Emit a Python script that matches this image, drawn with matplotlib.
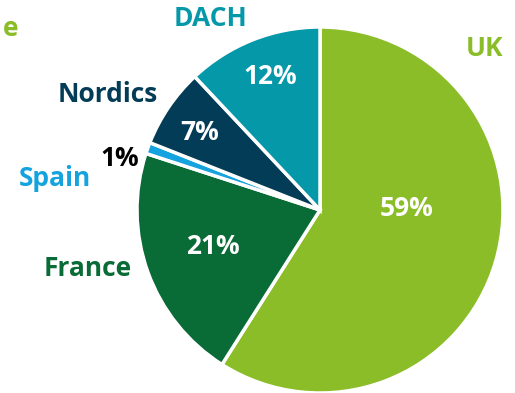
import matplotlib.pyplot as plt

plt.rcParams['font.family'] = ['Open Sans', 'DejaVu Sans']

regions = ['UK', 'France', 'Spain', 'Nordics', 'DACH']
shares = [59, 21, 1, 7, 12]
colors = ['#8abd28', '#096b36', '#14a3df', '#033c57', '#0598a9']
pct_colors = ['white', 'white', 'black', 'white', 'white']

# label anchors in pixel space (x, y from top)
name_pos = [(485, 48), (88, 269), (55, 179), (108, 95), (210, 18)]
pct_pos = [(407, 208), (213, 247), (120, 158), (200, 132), (270, 77)]

W, H = 515, 393
fig = plt.figure(figsize=(W / 100, H / 100), dpi=100)
ax = fig.add_axes([0, 0, 1, 1])

ax.pie(shares, colors=colors, startangle=90, counterclock=False,
       center=(320, H - 210), radius=183, frame=True,
       wedgeprops=dict(edgecolor='white', linewidth=2.5))
ax.set_xlim(0, W)
ax.set_ylim(0, H)
ax.set_aspect('equal')
ax.axis('off')

for name, val, c, pc, (nx, ny), (px, py) in zip(regions, shares, colors, pct_colors,
                                                 name_pos, pct_pos):
    ax.text(nx, H - ny, name, color=c, fontsize=19, fontweight='bold',
            ha='center', va='center')
    ax.text(px, H - py, f'{val}%', color=pc, fontsize=19, fontweight='bold',
            ha='center', va='center')

# tail of a cut-off heading at the top left
ax.text(11, H - 29, 'e', color='#8abd28', fontsize=19, fontweight='bold',
        ha='center', va='center')

fig.savefig('out.png', dpi=100)
